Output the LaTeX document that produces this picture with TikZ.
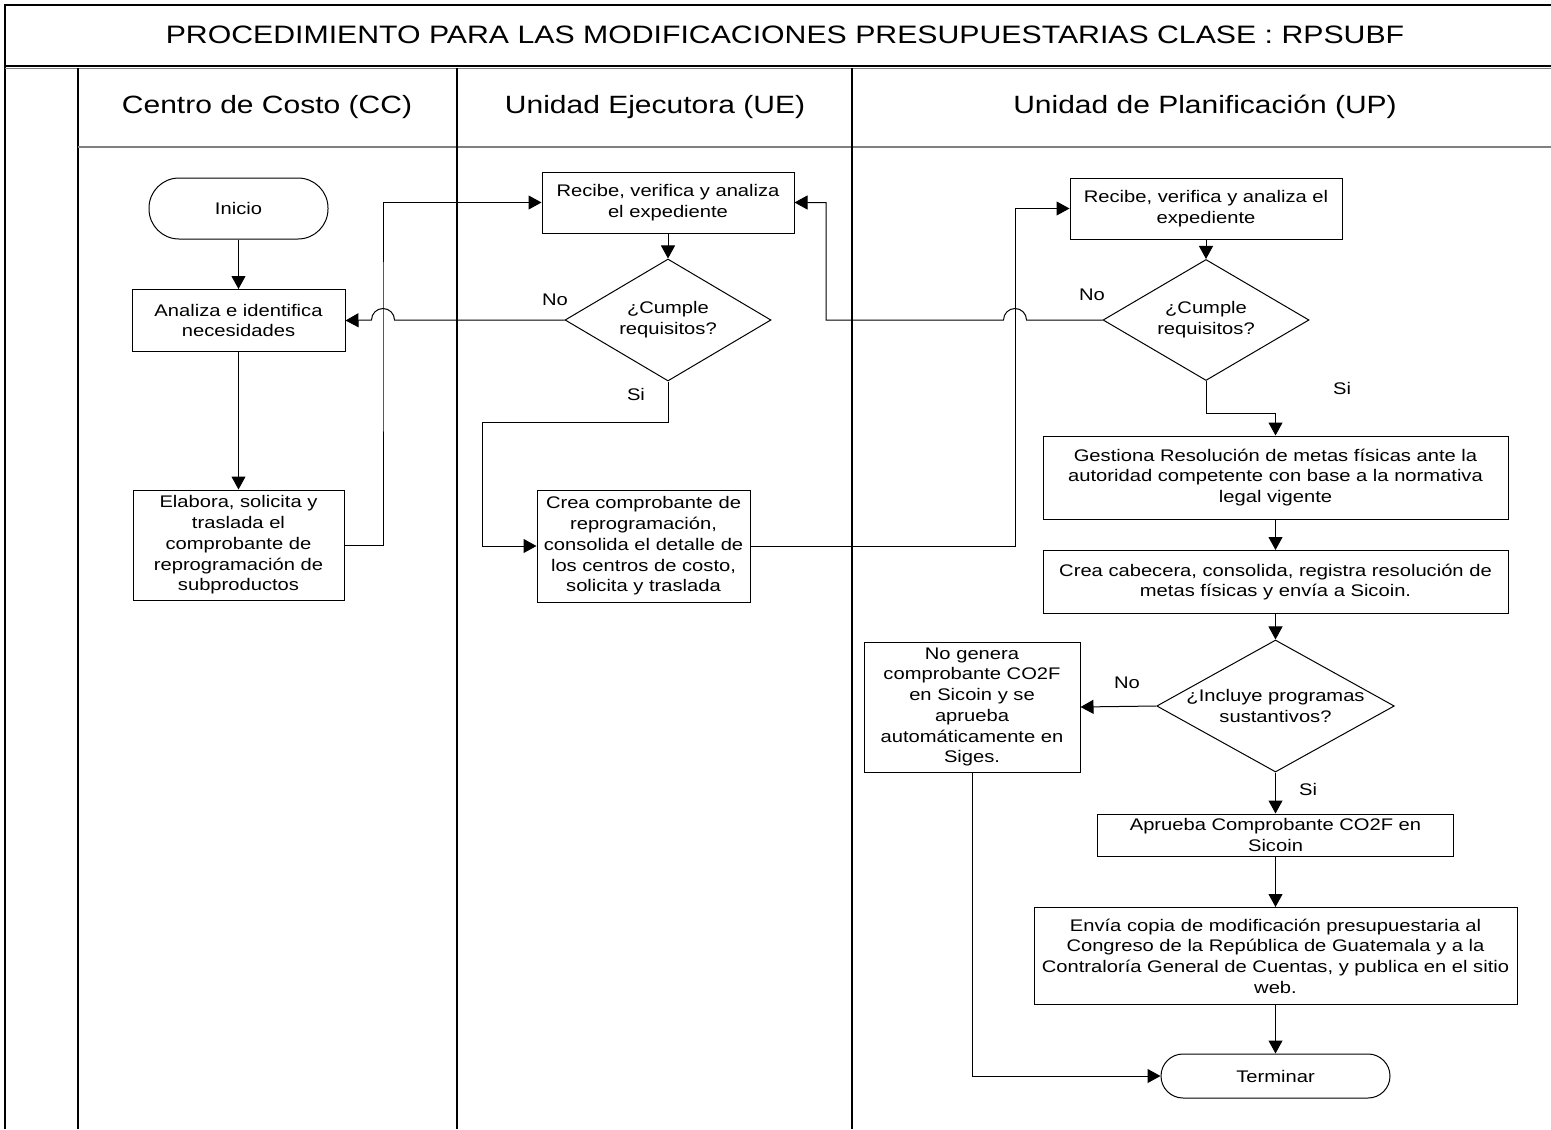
\documentclass[tikz,border=0pt]{standalone}
\usepackage{fontspec}
\setmainfont{Liberation Sans}[FakeStretch=1.2]
\usetikzlibrary{positioning,shapes.geometric,arrows.meta}
\newcommand{\boxFont}{\fontsize{8.4}{10.35}\selectfont}
\newcommand{\headFont}{\fontsize{12.5}{14}\selectfont}
\tikzstyle{chart} = [x = 0.5pt, y = -0.5pt]
\tikzstyle{laneLine} = [color=black, line width=0.8pt]
\tikzstyle{laneShade} = [color=gray, line width=0.8pt]
\tikzstyle{processBox} = [draw, rectangle, line width=0.5pt, align=center, inner sep=0pt, font=\boxFont]
\tikzstyle{decisionShape} = [draw, diamond, aspect=1.8, line width=0.5pt, align=center, inner sep=0pt, font=\boxFont]
\tikzstyle{terminalShape} = [processBox]
\tikzstyle{answerText} = [font=\boxFont, inner sep=0pt]
\tikzstyle{laneTitle} = [font=\headFont, inner sep=0pt]
\tikzstyle{flowArrow} = [line width=0.5pt, -{Triangle[length=6.5pt, width=7pt]}]

\begin{document}
\begin{tikzpicture}[chart]
  \useasboundingbox (0,0) rectangle (1551,1129);

  % frame and lanes
  \draw [laneLine] (5,1129) -- (5,5) -- (1551,5);
  \draw [laneLine] (5,66) -- (1551,66);
  \draw [laneShade] (5,68.5) -- (1551,68.5);
  \draw [laneLine] (78,68) -- (78,1129);
  \draw [laneShade] (78,147) -- (1551,147);
  \draw [laneLine] (457,68) -- (457,1129);
  \draw [laneLine] (852,68) -- (852,1129);

  \node [font=\fontsize{12.6}{15}\selectfont, inner sep=0pt] (title) at (785,35) {PROCEDIMIENTO PARA LAS MODIFICACIONES PRESUPUESTARIAS CLASE : RPSUBF};
  \node [laneTitle] (laneCC) at (267,107) {Centro de Costo (CC)};
  \node [laneTitle] (laneUE) at (655,107) {Unidad Ejecutora (UE)};
  \node [laneTitle] (laneUP) at (1205,107) {Unidad de Planificación (UP)};

  % Centro de Costo
  \node [terminalShape, rounded corners=15pt, minimum width=89.5pt, minimum height=30.5pt] (inicio) at (238.5,208.5) {Inicio};
  \node [processBox, minimum width=106.5pt, minimum height=31pt] (analiza) at (238.5,320.5) {Analiza e identifica\\necesidades};
  \node [processBox, minimum width=105.5pt, minimum height=55pt] (elabora) at (238.5,545) {Elabora, solicita y\\traslada el\\comprobante de\\reprogramación de\\subproductos};

  % Unidad Ejecutora
  \node [processBox, minimum width=126pt, minimum height=30.5pt] (recibeUE) at (668,202.5) {Recibe, verifica y analiza\\el expediente};
  \node [decisionShape, minimum width=103pt, minimum height=61pt] (cumpleUE) at (668,320) {¿Cumple\\requisitos?};
  \node [processBox, minimum width=106.5pt, minimum height=56pt] (creaUE) at (643.5,546) {Crea comprobante de\\reprogramación,\\consolida el detalle de\\los centros de costo,\\solicita y traslada};

  % Unidad de Planificacion
  \node [processBox, minimum width=136pt, minimum height=30.5pt] (recibeUP) at (1206,208.5) {Recibe, verifica y analiza el\\expediente};
  \node [decisionShape, minimum width=103pt, minimum height=60.5pt] (cumpleUP) at (1206,320) {¿Cumple\\requisitos?};
  \node [processBox, minimum width=232.5pt, minimum height=41.5pt] (gestiona) at (1275.5,477.5) {Gestiona Resolución de metas físicas ante la\\autoridad competente con base a la normativa\\legal vigente};
  \node [processBox, minimum width=232.5pt, minimum height=31.5pt] (cabecera) at (1275.5,582) {Crea cabecera, consolida, registra resolución de\\metas físicas y envía a Sicoin.};
  \node [decisionShape, minimum width=118.5pt, minimum height=64.5pt] (incluye) at (1275.5,706) {¿Incluye programas\\sustantivos?};
  \node [processBox, minimum width=108pt, minimum height=65pt] (noGenera) at (972,707) {No genera\\comprobante CO2F\\en Sicoin y se\\aprueba\\automáticamente en\\Siges.};
  \node [processBox, minimum width=178pt, minimum height=21pt] (aprueba) at (1275.5,835) {Aprueba Comprobante CO2F en\\Sicoin};
  \node [processBox, minimum width=241.5pt, minimum height=48.5pt] (envia) at (1275.5,956) {Envía copia de modificación presupuestaria al\\Congreso de la República de Guatemala y a la\\Contraloría General de Cuentas, y publica en el sitio\\web.};
  \node [terminalShape, rounded corners=11pt, minimum width=114.5pt, minimum height=22pt] (terminar) at (1275.5,1076) {Terminar};

  % answers
  \node [answerText] (noUE) at (555,300) {No};
  \node [answerText] (siUE) at (636,394) {Si};
  \node [answerText] (noUP) at (1092,295) {No};
  \node [answerText] (siUP) at (1342,388) {Si};
  \node [answerText] (noInc) at (1127,683) {No};
  \node [answerText] (siInc) at (1308,789) {Si};

  % bends and jumps
  \coordinate (jumpCC) at (383,320);
  \coordinate (jumpUP) at (1015,320);
  \coordinate (siBendUE) at (482,422);
  \coordinate (noBendUP) at (826,320);
  \coordinate (siBendUP) at (1275.5,413);

  % connectors
  \draw [flowArrow] (inicio) -- (analiza);
  \draw [flowArrow] (analiza) -- (elabora);
  \draw [flowArrow] (elabora.east) -| (jumpCC) |- (recibeUE.west);
  \draw [flowArrow] (recibeUE) -- (cumpleUE);
  \draw [flowArrow] (cumpleUE.west) -- ([xshift=5.75pt]jumpCC) arc [start angle=0, end angle=180, radius=5.75pt] -- (analiza.east);
  \draw [flowArrow] (cumpleUE.south) |- (siBendUE) |- (creaUE.west);
  \draw [flowArrow] (creaUE.east) -| (jumpUP) |- (recibeUP.west);
  \draw [flowArrow] (recibeUP) -- (cumpleUP);
  \draw [flowArrow] (cumpleUP.west) -- ([xshift=5.75pt]jumpUP) arc [start angle=0, end angle=180, radius=5.75pt] -- (noBendUP) |- (recibeUE.east);
  \draw [flowArrow] (cumpleUP.south) |- (siBendUP) -- (gestiona.north);
  \draw [flowArrow] (gestiona) -- (cabecera);
  \draw [flowArrow] (cabecera) -- (incluye);
  \draw [flowArrow] (incluye.west) -- (noGenera.east);
  \draw [flowArrow] (incluye) -- (aprueba);
  \draw [flowArrow] (aprueba) -- (envia);
  \draw [flowArrow] (envia) -- (terminar);
  \draw [flowArrow] (noGenera.south) |- (terminar.west);
\end{tikzpicture}
\end{document}
